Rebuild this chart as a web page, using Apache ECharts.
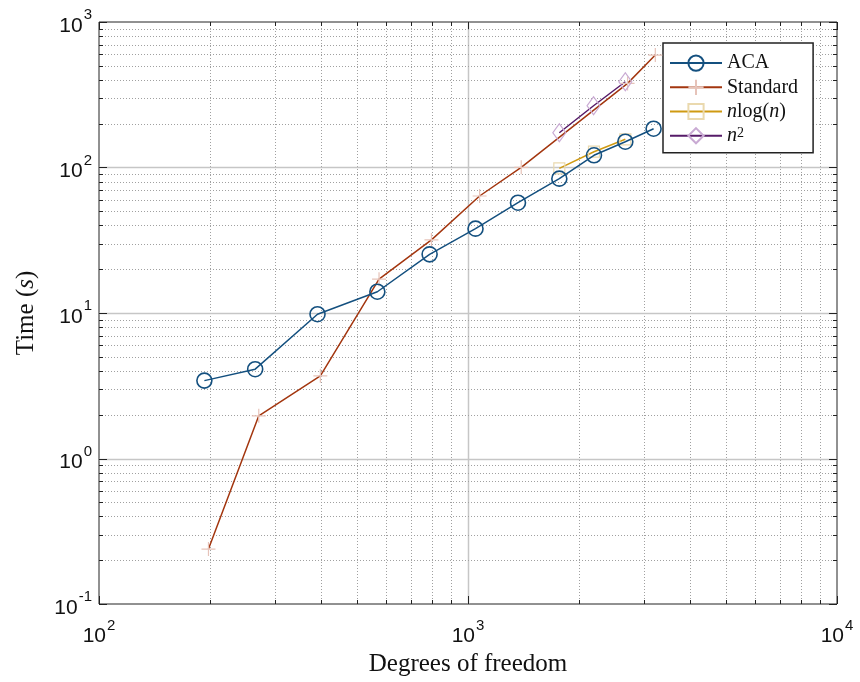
<!DOCTYPE html>
<html>
<head>
<meta charset="utf-8">
<script src="https://cdn.jsdelivr.net/npm/echarts@6/dist/echarts.min.js"></script>
<style>
html,body{margin:0;padding:0;background:#fff;}
#chart{width:860px;height:682px;}
</style>
</head>
<body>
<div id="chart"></div>
<script>
// ---- Data ----
const acaDof   = [193, 265, 391, 568, 787, 1048, 1366, 1768, 2195, 2669, 3184];
const acaTime  = [3.43, 4.11, 9.81, 14.0, 25.3, 38.0, 57.3, 83.8, 121.3, 150.4, 184.7];
const stdDof   = [198, 271, 398, 574, 796, 1075, 1394, 2707, 3218];
const stdTime  = [0.2385, 1.965, 3.70, 17.07, 31.8, 63.7, 100.3, 378.5, 592.5];
const nlogDof  = [1768, 2195, 2669];
const nlogTime = [98.7, 128.4, 156.2];
const n2Dof    = [1768, 2189, 2669];
const n2Time   = [173.4, 265.8, 388.6];

// tick values
const xTicks = [100,200,300,400,500,600,700,800,900,1000,2000,3000,4000,5000,6000,7000,8000,9000,10000];
const yTicks = [0.1,0.2,0.3,0.4,0.5,0.6,0.7,0.8,0.9,1,2,3,4,5,6,7,8,9,10,20,30,40,50,60,70,80,90,100,200,300,400,500,600,700,800,900,1000];
const xMajor = [100, 1000, 10000];
const yMajor = [0.1, 1, 10, 100, 1000];

const zip = (a, b) => a.map((v, i) => [v, b[i]]);
const isMajor = (v, list) => list.some(m => Math.abs(m - v) / m < 1e-9) ? 1 : 0;

const C_ACA = '#14507f', C_STD = '#a3360f', C_NLOG = '#cf9a12', C_N2 = '#561b68';

const chart = echarts.init(document.getElementById('chart'), null, {renderer: 'canvas'});

function expLabel(v) {
  const e = Math.round(Math.log10(v));
  return '{b|10}{s|' + e + '}';
}
const labelRich = {
  b: {fontSize: 21, fontFamily: 'Liberation Sans', color: '#111', lineHeight: 29, verticalAlign: 'bottom'},
  s: {fontSize: 15, fontFamily: 'Liberation Sans', color: '#111', lineHeight: 29, verticalAlign: 'top', padding: [0, 0, 0, 1]}
};

function gridX(params, api) {
  const v = api.value(0), maj = api.value(2);
  const cs = params.coordSys;
  const x = Math.round(api.coord([v, 1])[0]) + 0.5;
  const top = cs.y, bot = cs.y + cs.height;
  const len = maj ? 8 : 4;
  const ch = [];
  if (v > 100 && v < 10000) {
    ch.push({type: 'line', shape: {x1: x, y1: top, x2: x, y2: bot},
      style: maj ? {stroke: '#c6c6c6', lineWidth: 1.5} : {stroke: '#a0a0a0', lineWidth: 1, lineDash: [1, 2]}});
  }
  ch.push({type: 'line', shape: {x1: x, y1: bot, x2: x, y2: bot - len}, style: {stroke: '#222', lineWidth: 1}});
  ch.push({type: 'line', shape: {x1: x, y1: top, x2: x, y2: top + len}, style: {stroke: '#222', lineWidth: 1}});
  return {type: 'group', children: ch};
}
function gridY(params, api) {
  const v = api.value(1), maj = api.value(2);
  const cs = params.coordSys;
  const y = Math.round(api.coord([1000, v])[1]) + 0.5;
  const l = cs.x, r = cs.x + cs.width;
  const len = maj ? 8 : 4;
  const ch = [];
  if (v > 0.1 && v < 1000) {
    ch.push({type: 'line', shape: {x1: l, y1: y, x2: r, y2: y},
      style: maj ? {stroke: '#c6c6c6', lineWidth: 1.5} : {stroke: '#a0a0a0', lineWidth: 1, lineDash: [1, 2]}});
  }
  ch.push({type: 'line', shape: {x1: l, y1: y, x2: l + len, y2: y}, style: {stroke: '#222', lineWidth: 1}});
  ch.push({type: 'line', shape: {x1: r, y1: y, x2: r - len, y2: y}, style: {stroke: '#222', lineWidth: 1}});
  return {type: 'group', children: ch};
}

const plusPath = 'path://M5,0L5,10M0,5L10,5';

const option = {
  animation: false,
  backgroundColor: '#fff',
  grid: {left: 99, top: 22, right: 23, bottom: 78, show: true, borderColor: '#222', borderWidth: 1, backgroundColor: '#fff'},
  xAxis: {
    type: 'log', logBase: 10, min: 100, max: 10000,
    axisLine: {show: false}, axisTick: {show: false}, splitLine: {show: false},
    axisLabel: {formatter: expLabel, rich: labelRich, margin: 14},
    name: 'Degrees of freedom', nameLocation: 'middle', nameGap: 48,
    nameTextStyle: {fontFamily: 'Liberation Serif', fontSize: 25, color: '#111'}
  },
  yAxis: {
    type: 'log', logBase: 10, min: 0.1, max: 1000,
    axisLine: {show: false}, axisTick: {show: false}, splitLine: {show: false},
    axisLabel: {formatter: expLabel, rich: labelRich, margin: 7},
    name: '{a|Time (}{i|s}{a|)}', nameLocation: 'middle', nameGap: 60, nameRotate: 90,
    nameTextStyle: {
      rich: {
        a: {fontFamily: 'Liberation Serif', fontSize: 25, color: '#111'},
        i: {fontFamily: 'Liberation Serif', fontSize: 25, fontStyle: 'italic', color: '#111'}
      }
    }
  },
  legend: {
    data: ['ACA', 'Standard', 'nlog', 'n2'],
    orient: 'vertical', left: 663, top: 43,
    itemWidth: 52, itemHeight: 19, itemGap: 4,
    padding: [10, 15, 7, 6],
    borderColor: '#222', borderWidth: 1.5, backgroundColor: '#fff', borderRadius: 0,
    formatter: function (name) {
      if (name === 'nlog') return '{i|n}{a|log(}{i|n}{a|)}';
      if (name === 'n2') return '{i|n}{s|2}';
      return '{a|' + name + '}';
    },
    textStyle: {
      rich: {
        a: {fontFamily: 'Liberation Serif', fontSize: 20, color: '#111', lineHeight: 19},
        i: {fontFamily: 'Liberation Serif', fontSize: 20, fontStyle: 'italic', color: '#111', lineHeight: 19},
        s: {fontFamily: 'Liberation Serif', fontSize: 14, color: '#111', verticalAlign: 'top', lineHeight: 19}
      }
    }
  },
  series: [
    {
      type: 'custom', name: 'gx', renderItem: gridX, silent: true, z: 0,
      encode: {x: 0, y: 1},
      data: xTicks.map(v => [v, 1, isMajor(v, xMajor)])
    },
    {
      type: 'custom', name: 'gy', renderItem: gridY, silent: true, z: 0,
      encode: {x: 0, y: 1},
      data: yTicks.map(v => [1000, v, isMajor(v, yMajor)])
    },
    {
      name: 'ACA', type: 'line', data: zip(acaDof, acaTime), z: 5,
      symbol: 'circle', symbolSize: 15,
      itemStyle: {color: 'none', borderColor: C_ACA, borderWidth: 1.6},
      lineStyle: {color: C_ACA, width: 1.5}
    },
    {
      name: 'Standard', type: 'line', data: zip(stdDof, stdTime), z: 4,
      symbol: plusPath, symbolSize: 14,
      itemStyle: {color: 'none', borderColor: '#e6c3b9', borderWidth: 1.2},
      lineStyle: {color: C_STD, width: 1.5}
    },
    {
      name: 'nlog', type: 'line', data: zip(nlogDof, nlogTime), z: 4,
      symbol: 'rect', symbolSize: 11,
      itemStyle: {color: 'none', borderColor: '#ead9ae', borderWidth: 1.2},
      lineStyle: {color: C_NLOG, width: 1.5}
    },
    {
      name: 'n2', type: 'line', data: zip(n2Dof, n2Time), z: 4,
      symbol: 'diamond', symbolSize: [13, 18],
      itemStyle: {color: 'none', borderColor: '#c9aad3', borderWidth: 1.2},
      lineStyle: {color: C_N2, width: 1.5}
    }
  ]
};
chart.setOption(option);
</script>
</body>
</html>
